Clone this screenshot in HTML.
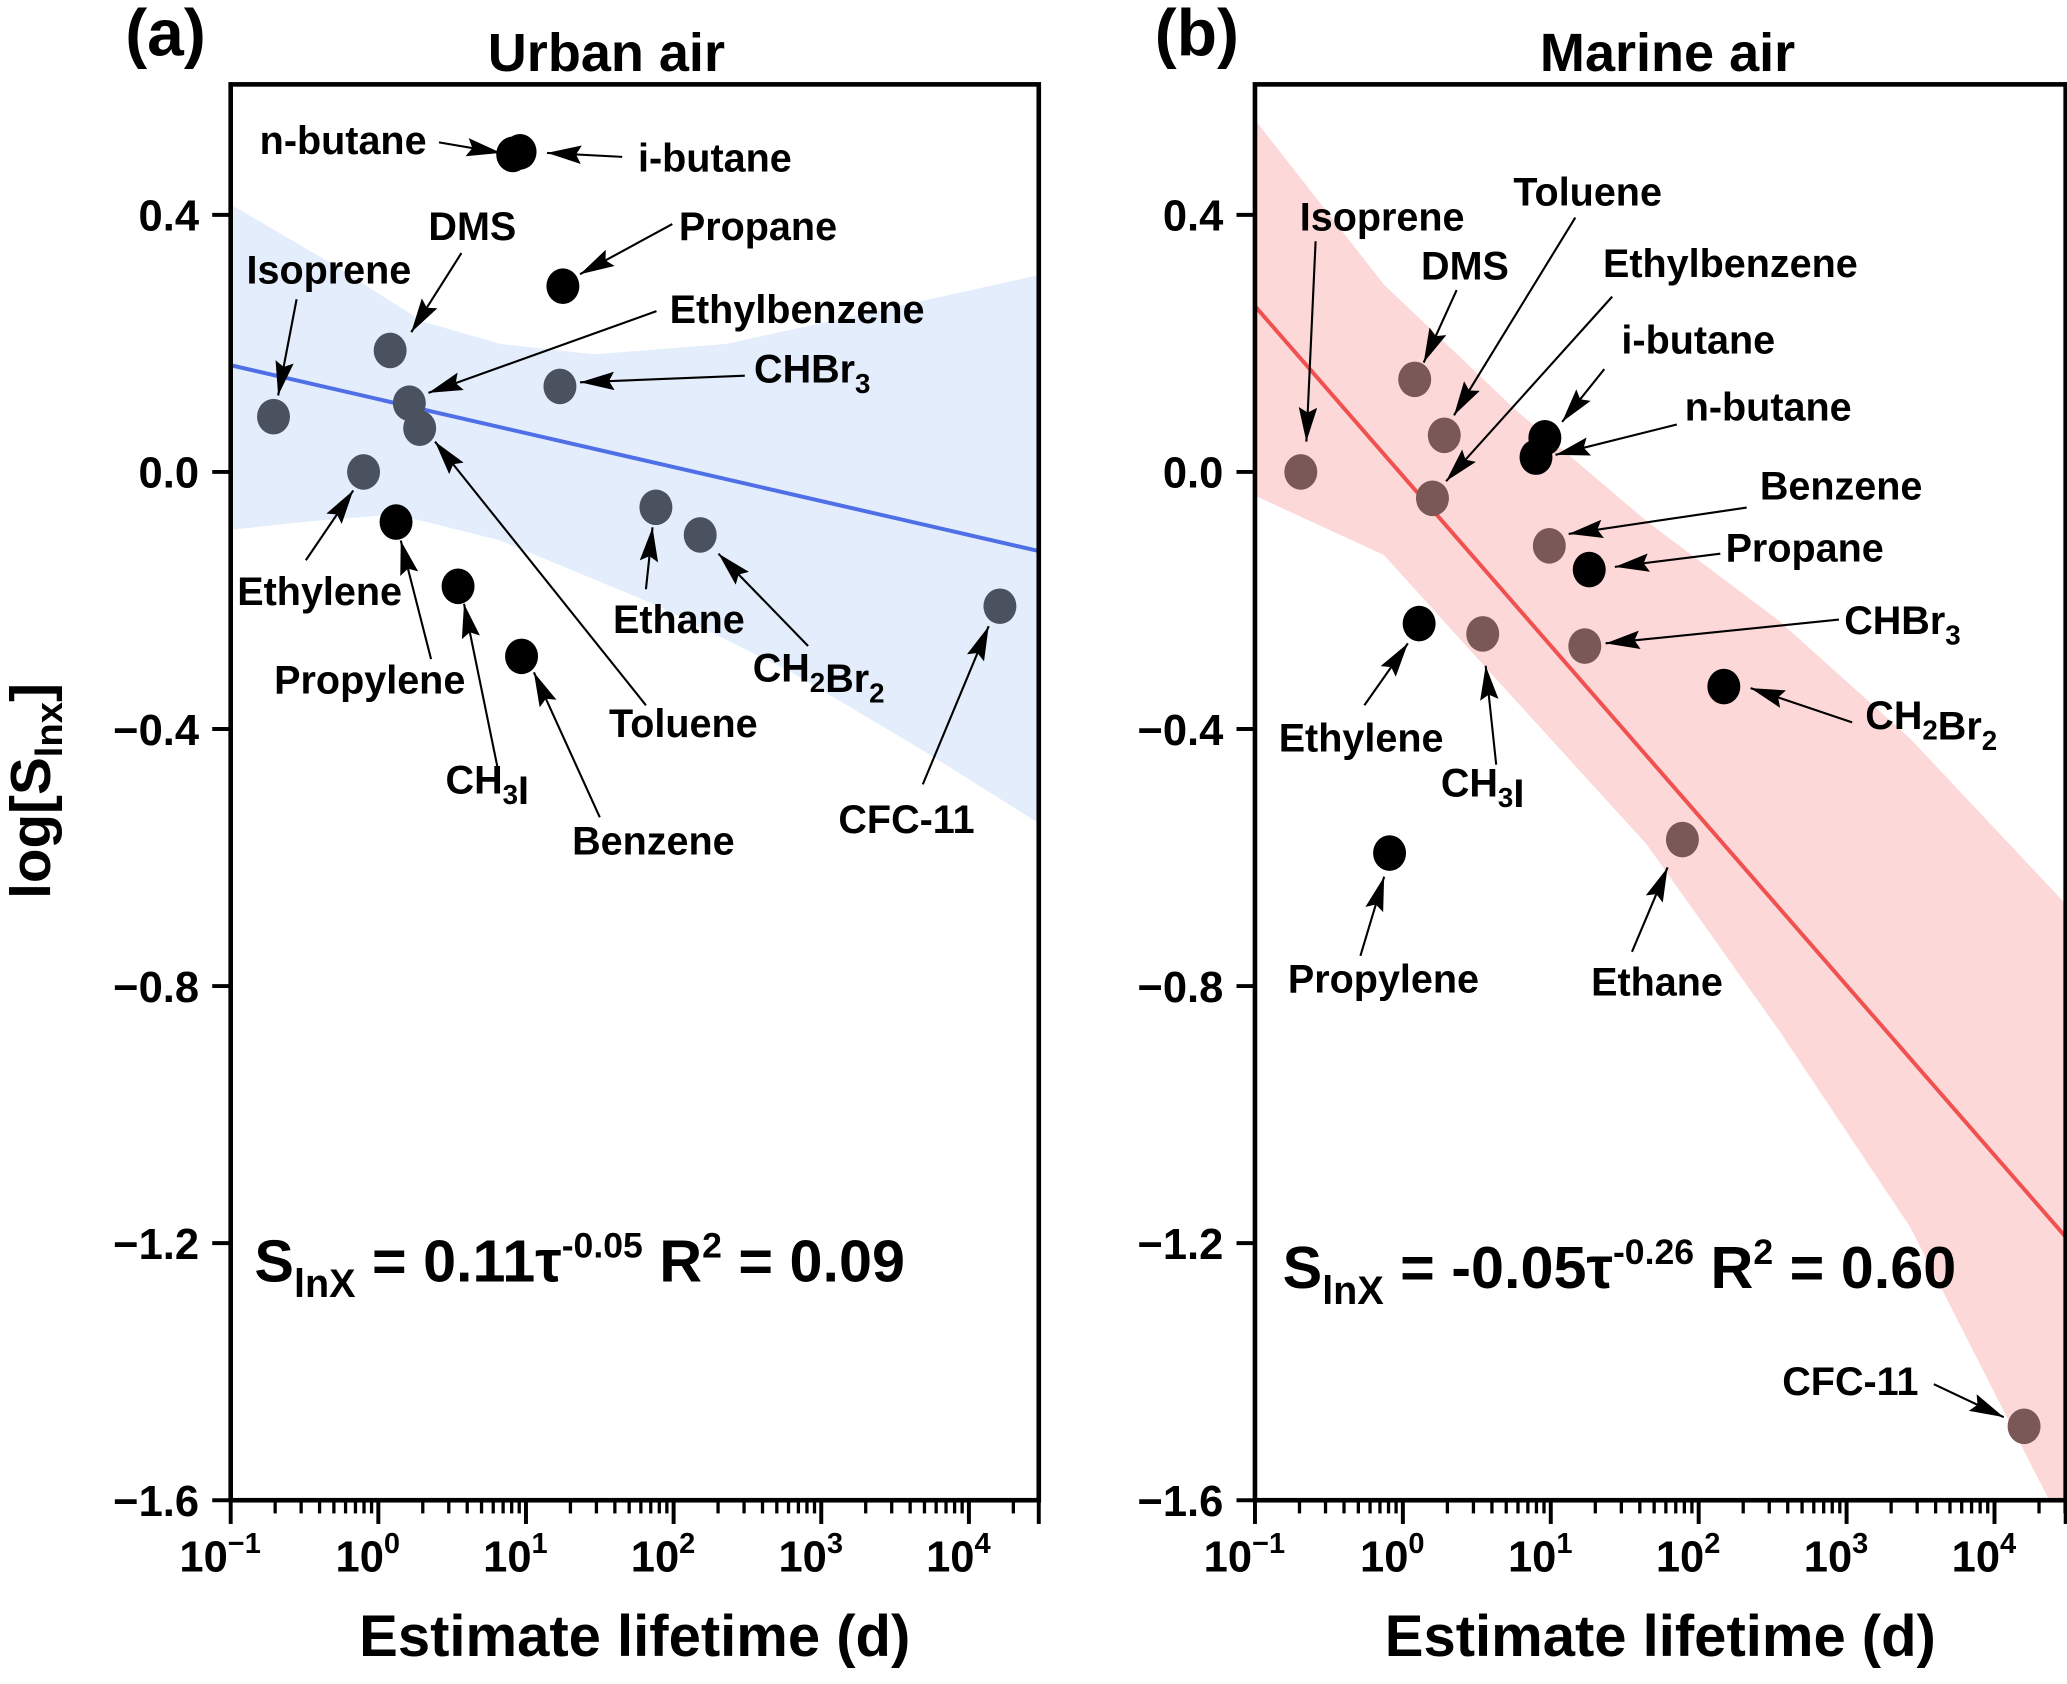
<!DOCTYPE html>
<html><head><meta charset="utf-8"><style>
html,body{margin:0;padding:0;background:#fff;}
svg{display:block;font-family:"Liberation Sans",Arial,sans-serif;font-weight:bold;}
</style></head><body>
<svg id="chart" width="2067" height="1684" viewBox="0 0 1568 1277.4" preserveAspectRatio="none" xmlns="http://www.w3.org/2000/svg">
<defs>
<marker id="ahb" markerWidth="26" markerHeight="14" refX="26" refY="7" orient="auto" markerUnits="userSpaceOnUse" viewBox="0 0 26 14"><path d="M0,0 L26,7 L0,14 L4,7 Z" fill="#000"/></marker>
<clipPath id="clipA"><rect x="175" y="64" width="613" height="1074"/></clipPath>
<clipPath id="clipB"><rect x="952" y="64" width="615" height="1074"/></clipPath>
</defs>
<g id="root"></g>
</svg>
<script>
// ---- data panel (a) Urban air ----
const namesA = ["n-butane","i-butane","Propane","DMS","Isoprene","Ethylbenzene","Toluene","CHBr3","Ethylene","Propylene","CH3I","Benzene","Ethane","CH2Br2","CFC-11"];
const logTauA = [0.91,0.96,1.25,0.08,-0.71,0.21,0.28,1.23,-0.10,0.12,0.54,0.97,1.88,2.18,4.21];
const logSA = [0.494,0.498,0.289,0.189,0.086,0.107,0.068,0.133,0.0,-0.078,-0.178,-0.287,-0.055,-0.098,-0.209];
const blackA = [1,1,1,0,0,0,0,0,0,1,1,1,0,0,0];
const fitA = [[-1,0.166],[4.47,-0.123]];
const bandTopX_A = [-1,-0.33,0.3,0.83,1.46,2.35,3.25,4.47];
const bandTopY_A = [0.416,0.326,0.234,0.199,0.183,0.199,0.244,0.306];
const bandBotX_A = [-1,-0.42,0.12,0.83,1.9,2.8,3.7,4.47];
const bandBotY_A = [-0.09,-0.076,-0.066,-0.107,-0.209,-0.312,-0.435,-0.546];
// ---- data panel (b) Marine air ----
const namesB = ["Isoprene","DMS","Toluene","Ethylbenzene","i-butane","n-butane","Benzene","Propane","Ethylene","CH3I","CHBr3","CH2Br2","Propylene","Ethane","CFC-11"];
const logTauB = [-0.69,0.08,0.28,0.20,0.96,0.90,0.99,1.26,0.11,0.54,1.23,2.17,-0.09,1.89,4.20];
const logSB = [0.0,0.144,0.057,-0.041,0.053,0.023,-0.115,-0.152,-0.236,-0.252,-0.271,-0.334,-0.593,-0.572,-1.485];
const blackB = [0,0,0,0,1,1,0,1,1,0,0,1,1,0,0];
const fitB = [[-1,0.258],[4.48,-1.19]];
const bandTopX_B = [-1,-0.13,0.76,1.65,2.54,3.43,4.48];
const bandTopY_B = [0.548,0.292,0.097,-0.077,-0.231,-0.415,-0.672];
const bandBotX_B = [-1,-0.13,0.76,1.65,2.54,3.43,4.06,4.48];
const bandBotY_B = [-0.037,-0.129,-0.355,-0.58,-0.868,-1.175,-1.46,-1.65];
const yTicks = [0.4,0.0,-0.4,-0.8,-1.2,-1.6];
const yTickLabels = ["0.4","0.0","\u22120.4","\u22120.8","\u22121.2","\u22121.6"];
const xTicks = [-1,0,1,2,3,4];

const NS="http://www.w3.org/2000/svg";
const root=document.getElementById('root');
function el(tag,attrs,parent){const e=document.createElementNS(NS,tag);for(const k in attrs)e.setAttribute(k,attrs[k]);(parent||root).appendChild(e);return e;}

const Y0=64,Y1=1138, yMax=0.603, yMin=-1.6;
function yS(v){return Y1-(v-yMin)/(yMax-yMin)*(Y1-Y0);}

function panel(cfg){
  const g=el('g',{});
  
  
  const xS=v=>cfg.x0+(v+1)*cfg.dec;
  const clip=el('g',{'clip-path':'url(#'+cfg.clip+')'},g);
  let d='';
  cfg.btx.forEach((x,i)=>{d+=(i?'L':'M')+xS(x)+','+yS(cfg.bty[i]);});
  for(let i=cfg.bbx.length-1;i>=0;i--)d+='L'+xS(cfg.bbx[i])+','+yS(cfg.bby[i]);
  const band=el('path',{d:d+'Z',fill:cfg.bandColor},clip);
  
  
  const fl=el('line',{x1:xS(cfg.fit[0][0]),y1:yS(cfg.fit[0][1]),x2:xS(cfg.fit[1][0]),y2:yS(cfg.fit[1][1]),stroke:cfg.lineColor,'stroke-width':3},clip);
  
  
  cfg.lx.forEach((x,i)=>{
    const c=el('ellipse',{cx:xS(x),cy:yS(cfg.ly[i]),rx:12.5,ry:13.5,fill:cfg.black[i]?'#000':cfg.ptColor},clip);
    
    
  });
  const fr=el('rect',{x:cfg.x0,y:Y0,width:cfg.x1-cfg.x0,height:Y1-Y0,fill:'none',stroke:'#000','stroke-width':3.5},g);
  
  
  yTicks.forEach((v,i)=>{
    el('line',{x1:cfg.x0-14,y1:yS(v),x2:cfg.x0,y2:yS(v),stroke:'#000','stroke-width':3},g);
    const t=el('text',{x:cfg.x0-24,y:yS(v)+12,'text-anchor':'end','font-size':33},g);
    t.textContent=yTickLabels[i];
    
    
  });
  xTicks.forEach(v=>{
    el('line',{x1:xS(v),y1:Y1,x2:xS(v),y2:Y1+18,stroke:'#000','stroke-width':3},g);
    const t=el('text',{x:xS(v)-8,y:Y1+54,'text-anchor':'middle','font-size':33},g);
    
    
    t.innerHTML='10<tspan dy="-14" font-size="22">'+(v<0?'\u2212'+(-v):v)+'</tspan>';
    for(let m=2;m<=9;m++){const lx=xS(v+Math.log10(m));if(lx<cfg.x1) el('line',{x1:lx,y1:Y1,x2:lx,y2:Y1+10,stroke:'#000','stroke-width':2.5},g);}
  });
  el('line',{x1:cfg.x1,y1:Y1,x2:cfg.x1,y2:Y1+18,stroke:'#000','stroke-width':3},g);
  const xt=el('text',{x:(cfg.x0+cfg.x1)/2,y:1256,'text-anchor':'middle','font-size':44},g);
  xt.textContent='Estimate lifetime (d)';
  
  
  const tt=el('text',{x:cfg.titleX,y:54,'text-anchor':'middle','font-size':41},g);
  tt.textContent=cfg.title;
  
  
  const pl=el('text',{x:cfg.labelX,y:42,'font-size':50},g);
  pl.textContent=cfg.panelLabel;
  
  
  cfg.ann.forEach(a=>{
    const t=el('text',{x:a[1],y:a[2],'font-size':30},g);
    t.innerHTML=a[0];
    
    
    const ln=el('line',{x1:a[3],y1:a[4],x2:a[5],y2:a[6],stroke:'#000','stroke-width':1.6,'marker-end':'url(#ahb)'},g);
    
    
  });
  const eq=el('text',{x:cfg.eq[0],y:cfg.eq[1],'font-size':45},g);
  eq.innerHTML=cfg.eq[2];
  
  
}
const sub=s=>'<tspan dy="8" font-size="21">'+s+'</tspan><tspan dy="-8"></tspan>';
panel({name:'panel-a-urban-air',x0:175,x1:788,dec:112,clip:'clipA',names:namesA,lx:logTauA,ly:logSA,black:blackA,fit:fitA,
  btx:bandTopX_A,bty:bandTopY_A,bbx:bandBotX_A,bby:bandBotY_A,bandColor:'#e3edfc',lineColor:'#4f6fe6',ptColor:'#4a5260',
  title:'Urban air',titleX:460,panelLabel:'(a)',labelX:95,
  eq:[193,972,'S<tspan dy="12" font-size="30">lnX</tspan><tspan dy="-12"> = 0.11\u03c4</tspan><tspan dy="-18" font-size="27">-0.05</tspan><tspan dy="18"> R</tspan><tspan dy="-18" font-size="27">2</tspan><tspan dy="18"> = 0.09</tspan>'],
  ann:[
   ['n-butane',197,117,333,108,380,116],['i-butane',484,130,472,119,415,116],['Propane',515,182,510,170,440,208],
   ['DMS',325,182,350,192,312,252],['Isoprene',187,215,225,227,211,300],['Ethylbenzene',508,245,498,236,325,298],
   ['CHBr'+sub('3'),572,290,565,285,440,290],['Ethylene',180,459,232,425,268,372],['Propylene',208,526,327,500,304,410],
   ['CH'+sub('3')+'I',338,602,378,585,352,458],['Benzene',434,648,455,620,405,510],['Toluene',462,559,490,535,330,335],
   ['Ethane',465,480,490,447,495,400],['CH'+sub('2')+'Br'+sub('2'),571,517,613,490,545,420],['CFC-11',636,632,700,595,750,475]
  ]});
panel({name:'panel-b-marine-air',x0:952,x1:1567,dec:112.2,clip:'clipB',names:namesB,lx:logTauB,ly:logSB,black:blackB,fit:fitB,
  btx:bandTopX_B,bty:bandTopY_B,bbx:bandBotX_B,bby:bandBotY_B,bandColor:'#fdd8d8',lineColor:'#f05050',ptColor:'#7a5858',
  title:'Marine air',titleX:1265,panelLabel:'(b)',labelX:876,
  eq:[973,977,'S<tspan dy="12" font-size="30">lnX</tspan><tspan dy="-12"> = -0.05\u03c4</tspan><tspan dy="-18" font-size="27">-0.26</tspan><tspan dy="18"> R</tspan><tspan dy="-18" font-size="27">2</tspan><tspan dy="18"> = 0.60</tspan>'],
  ann:[
   ['Isoprene',986,175,998,183,991,335],['DMS',1078,212,1105,220,1080,275],['Toluene',1148,156,1195,165,1103,315],
   ['Ethylbenzene',1216,210,1223,225,1097,365],['i-butane',1230,268,1217,280,1185,320],['n-butane',1278,319,1272,322,1180,345],
   ['Benzene',1335,379,1325,385,1190,405],['Propane',1309,426,1305,420,1225,430],['CHBr'+sub('3'),1399,481,1395,470,1218,488],
   ['CH'+sub('2')+'Br'+sub('2'),1415,553,1405,548,1328,522],['Ethylene',970,570,1035,535,1068,488],['CH'+sub('3')+'I',1093,604,1135,580,1127,505],
   ['Propylene',977,753,1032,725,1050,665],['Ethane',1207,755,1238,722,1265,658],['CFC-11',1352,1058,1467,1050,1520,1075]
  ]});
const yl=el('text',{transform:'translate(38,600) rotate(-90)','text-anchor':'middle','font-size':43});
yl.innerHTML='log[S<tspan dy="9" font-size="29">lnx</tspan><tspan dy="-9">]</tspan>';


</script>
</body></html>
